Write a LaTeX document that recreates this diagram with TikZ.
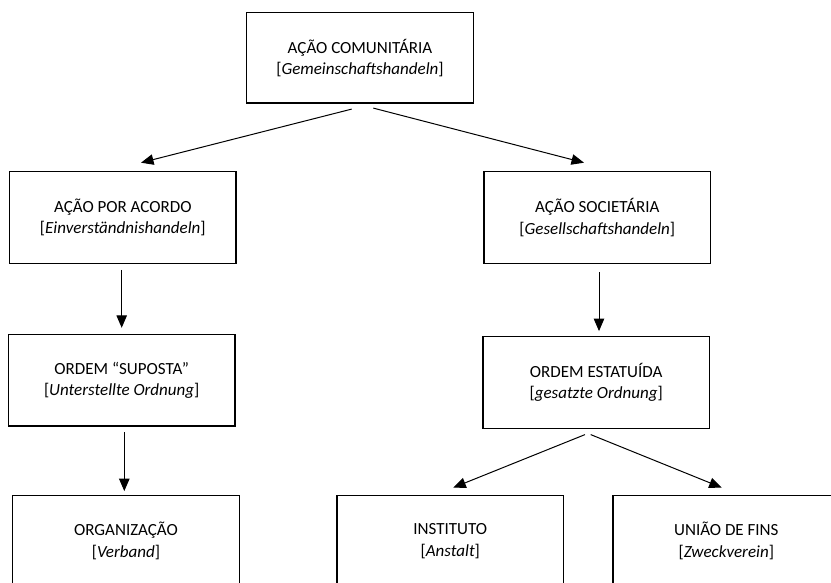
\documentclass[tikz,border=0pt]{standalone}
\usepackage{fontspec}
\setmainfont{Carlito}
\usetikzlibrary{arrows.meta,calc}
\begin{document}
\begin{tikzpicture}[x=1pt,y=-1pt,
  box/.style={draw, line width=1.3pt, minimum width=226.5pt, minimum height=91.5pt,
    align=center, inner sep=0pt, font=\fontsize{17}{21.5}\selectfont},
  arr/.style={line width=1pt, -{Triangle[length=12.5pt,width=10.5pt]}}]
\useasboundingbox (0,0) rectangle (831,583);
\clip (0,0) rectangle (831,583);
\node[box, minimum height=90.3pt] (top) at (360,58) {AÇÃO COMUNITÁRIA\\{[}\textit{Gemeinschaftshandeln}{]}};
\node[box] (acordo) at (122.8,217.5) {AÇÃO POR ACORDO\\{[}\textit{Einverständnishandeln}{]}};
\node[box] (societaria) at (597.3,217.5) {AÇÃO SOCIETÁRIA\\{[}\textit{Gesellschaftshandeln}{]}};
\node[box] (suposta) at (121.7,380.2) {ORDEM “SUPOSTA”\\{[}\textit{Unterstellte Ordnung}{]}};
\node[box] (estatuida) at (596.2,382.5) {ORDEM ESTATUÍDA\\{[}\textit{gesatzte Ordnung}{]}};
\node[box] (organizacao) at (126,541) {ORGANIZAÇÃO\\{[}\textit{Verband}{]}};
\node[box] (instituto) at (450.3,541) {INSTITUTO\\{[}\textit{Anstalt}{]}};
\node[box] (uniao) at (726.3,541) {UNIÃO DE FINS\\{[}\textit{Zweckverein}{]}};
\draw[arr] ($(top.south)+(-8.3,5.3)$) -- ($(acordo.north)+(18.2,-8.4)$);
\draw[arr] ($(top.south)+(13.3,4.3)$) -- ($(societaria.north)+(-13.3,-8.4)$);
\draw[arr] ($(acordo.south)+(-1.1,6)$) -- ($(suposta.north)+(0,-6)$);
\draw[arr] ($(societaria.south)+(1.7,8.4)$) -- ($(estatuida.north)+(2.8,-5)$);
\draw[arr] ($(suposta.south)+(2.6,5.7)$) -- ($(organizacao.north)+(-1.7,-3.5)$);
\draw[arr] ($(estatuida.south)+(-11.2,5.7)$) -- ($(instituto.north)+(3,-7)$);
\draw[arr] ($(estatuida.south)+(-5.5,5.7)$) -- ($(uniao.north)+(-4.6,-7)$);
\end{tikzpicture}
\end{document}
